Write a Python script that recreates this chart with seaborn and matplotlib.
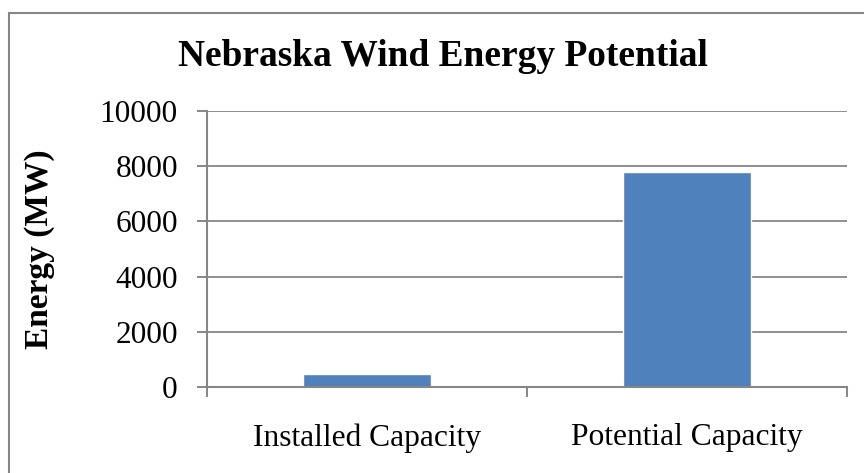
import matplotlib
matplotlib.use("Agg")
import matplotlib.pyplot as plt
import seaborn as sns
import pandas as pd
from matplotlib.lines import Line2D

categories = ["Installed Capacity", "Potential Capacity"]
energy_mw = [460, 7800]
y_ticks = [0, 2000, 4000, 6000, 8000, 10000]

df = pd.DataFrame({"Capacity": categories, "Energy": energy_mw})

sns.set_style("white")
plt.rcParams["font.family"] = ["Liberation Serif", "DejaVu Serif"]
plt.rcParams["text.color"] = "black"
plt.rcParams["xtick.color"] = "black"
plt.rcParams["ytick.color"] = "black"
plt.rcParams["axes.labelcolor"] = "black"

fig = plt.figure(figsize=(8.64, 4.73), dpi=100)
ax = fig.add_axes([207 / 864, 1 - 387 / 473, 640 / 864, 276 / 473])

grey = "#868686"
ax.set_axisbelow(True)
ax.yaxis.grid(True, color=grey, linewidth=1.3)

sns.barplot(data=df, x="Capacity", y="Energy", color="#4F81BD",
            width=0.4, saturation=1, ax=ax)

ax.set_xlim(-0.5, 1.5)
ax.set_ylim(0, 10000)
ax.set_yticks(y_ticks)
ax.set_yticklabels([str(v) for v in y_ticks], fontsize=22.5)

# category labels on minor ticks, boundary ticks on major
ax.set_xticks([-0.5, 0.5, 1.5])
ax.set_xticklabels([])
ax.set_xticks([0, 1], minor=True)
ax.set_xticklabels(categories, minor=True, fontsize=22.7)
ax.tick_params(axis="x", which="minor", length=0, pad=26, bottom=True)
ax.tick_params(axis="x", which="major", length=7, width=1.4, color=grey,
               direction="out", bottom=True)
ax.tick_params(axis="y", length=7, width=1.4, color=grey, direction="out",
               pad=14, left=True)

for side in ["top", "right"]:
    ax.spines[side].set_visible(False)
for side in ["left", "bottom"]:
    ax.spines[side].set_color(grey)
    ax.spines[side].set_linewidth(1.5)

ax.set_xlabel("")
ax.set_ylabel("Energy (MW)", fontsize=24, fontweight="bold")
ax.yaxis.set_label_coords(-152 / 640, 0.5)

fig.text(443 / 864, 1 - 57 / 473, "Nebraska Wind Energy Potential",
         ha="center", va="center", fontsize=26.9, fontweight="bold")

# chart-area border (only left and top visible in the crop)
fig.add_artist(Line2D([9 / 864, 9 / 864], [0, 1 - 13 / 473], color=grey, linewidth=1.5,
                      transform=fig.transFigure))
fig.add_artist(Line2D([9 / 864, 1], [1 - 13 / 473, 1 - 13 / 473], color=grey, linewidth=1.5,
                      transform=fig.transFigure))

fig.savefig("out.png", dpi=100)
